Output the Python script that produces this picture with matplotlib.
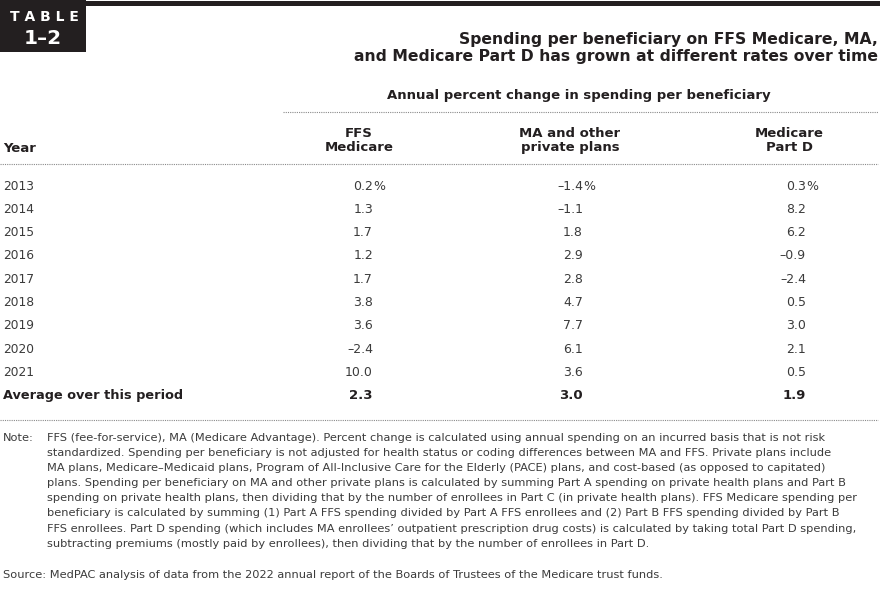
import matplotlib
matplotlib.use('Agg')
from matplotlib import pyplot as plt
from matplotlib.patches import Rectangle

plt.rcParams['font.family'] = ['DejaVu Sans']

years = ['2013', '2014', '2015', '2016', '2017', '2018', '2019', '2020', '2021']
ffs = [0.2, 1.3, 1.7, 1.2, 1.7, 3.8, 3.6, -2.4, 10.0]
ma = [-1.4, -1.1, 1.8, 2.9, 2.8, 4.7, 7.7, 6.1, 3.6]
part_d = [0.3, 8.2, 6.2, -0.9, -2.4, 0.5, 3.0, 2.1, 0.5]
averages = [2.3, 3.0, 1.9]

col_headers = ['FFS\nMedicare', 'MA and other\nprivate plans', 'Medicare\nPart D']
title = ('Spending per beneficiary on FFS Medicare, MA,\n'
         'and Medicare Part D has grown at different rates over time')
subtitle = 'Annual percent change in spending per beneficiary'
note_lines = [
    'FFS (fee-for-service), MA (Medicare Advantage). Percent change is calculated using annual spending on an incurred basis that is not risk',
    'standardized. Spending per beneficiary is not adjusted for health status or coding differences between MA and FFS. Private plans include',
    'MA plans, Medicare\u2013Medicaid plans, Program of All-Inclusive Care for the Elderly (PACE) plans, and cost-based (as opposed to capitated)',
    'plans. Spending per beneficiary on MA and other private plans is calculated by summing Part A spending on private health plans and Part B',
    'spending on private health plans, then dividing that by the number of enrollees in Part C (in private health plans). FFS Medicare spending per',
    'beneficiary is calculated by summing (1) Part A FFS spending divided by Part A FFS enrollees and (2) Part B FFS spending divided by Part B',
    'FFS enrollees. Part D spending (which includes MA enrollees\u2019 outpatient prescription drug costs) is calculated by taking total Part D spending,',
    'subtracting premiums (mostly paid by enrollees), then dividing that by the number of enrollees in Part D.',
]
source = 'Source: MedPAC analysis of data from the 2022 annual report of the Boards of Trustees of the Medicare trust funds.'

DARK = '#231f20'
TEXT = '#3b3b3b'
DOT = '#8a8a8a'


def fmt(v):
    s = f'{abs(v):.1f}'
    return ('\u2013' + s) if v < 0 else s


fig = plt.figure(figsize=(8.83, 5.94), dpi=100)
ax = fig.add_axes([0, 0, 1, 1])
ax.set_xlim(0, 883)
ax.set_ylim(594, 0)
ax.axis('off')

# header bar and table badge
ax.add_patch(Rectangle((0, 1), 880, 5, color=DARK, lw=0))
ax.add_patch(Rectangle((0, 0), 86, 52, color=DARK, lw=0))
ax.text(44, 17, 'T A B L E', ha='center', va='center', color='white',
        fontsize=10, fontweight='bold')
ax.text(43, 38, '1\u20132', ha='center', va='center', color='white',
        fontsize=14.5, fontweight='bold')

ax.text(878, 48, title, ha='right', va='center', color=DARK, fontsize=11.25,
        fontweight='bold', linespacing=1.18)
ax.text(579, 96, subtitle, ha='center', va='center', color=DARK,
        fontsize=9.5, fontweight='bold')


def dotted(y, x0, x1):
    ax.plot([x0, x1], [y, y], color=DOT, lw=0.8, linestyle=(0, (1, 1)))


dotted(112, 283, 878)
dotted(164, 0, 878)
dotted(420, 0, 878)

ax.text(3, 148, 'Year', ha='left', va='center', color=DARK, fontsize=9.5,
        fontweight='bold')
header_x = [359, 570, 789]
for hx, label in zip(header_x, col_headers):
    ax.text(hx, 140.5, label, ha='center', va='center', color=DARK,
            fontsize=9.5, fontweight='bold', linespacing=1.1)

# data rows
num_right = [373, 583, 806]
row_y0 = 186
row_dy = 23.3
for i, yr in enumerate(years):
    y = row_y0 + i * row_dy
    ax.text(3, y, yr, ha='left', va='center', color=TEXT, fontsize=8.8)
    for x, series in zip(num_right, [ffs, ma, part_d]):
        ax.text(x, y, fmt(series[i]), ha='right', va='center', color=TEXT,
                fontsize=9)
        if i == 0:
            ax.text(x, y, '%', ha='left', va='center', color=TEXT, fontsize=9)

y = row_y0 + len(years) * row_dy
ax.text(3, y, 'Average over this period', ha='left', va='center', color=DARK,
        fontsize=9.3, fontweight='bold')
for x, v in zip(num_right, averages):
    ax.text(x, y, fmt(v), ha='right', va='center', color=DARK, fontsize=9.5,
            fontweight='bold')

# notes
NOTE_FS = 8.2
ax.text(3, 438, 'Note:', ha='left', va='center', color=TEXT, fontsize=NOTE_FS)
for i, line in enumerate(note_lines):
    ax.text(47, 438 + i * 15.1, line, ha='left', va='center', color=TEXT,
            fontsize=NOTE_FS)
ax.text(3, 575, source, ha='left', va='center', color=TEXT, fontsize=NOTE_FS)

fig.savefig('out.png', dpi=100)
